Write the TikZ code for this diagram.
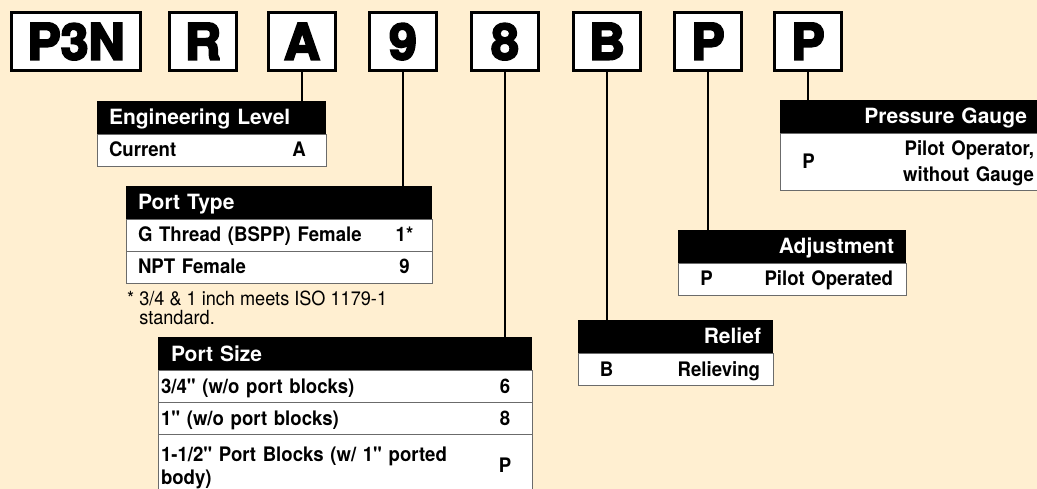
\documentclass[tikz,border=0pt]{standalone}
\usepackage{fontspec}
\setmainfont{TeX Gyre Heros}
\newfontfamily\cellfont{TeX Gyre Heros}[FakeStretch=0.93]
\newfontfamily\codefont{TeX Gyre Heros}[BoldFeatures={FakeBold=4}]
\usepackage{tikz}
\usetikzlibrary{positioning}
\definecolor{bgcream}{HTML}{FFEFD1}
\definecolor{rowline}{HTML}{6B6B6B}
\tikzset{codebox/.style={draw=black, line width=2.7pt, fill=white, inner sep=0pt, outer sep=0pt, minimum width=67pt, minimum height=58pt, text height=36pt, text depth=0pt, font=\codefont\fontsize{50}{50}\bfseries}}
\tikzset{
    headbar/.style={fill=black, text=white, font=\fontsize{21}{24}\selectfont\bfseries, inner xsep=12pt, inner ysep=0pt, outer sep=0pt, minimum height=33pt, text height=15pt, text depth=0pt, anchor=north west},
    rowcell/.style={draw=rowline, line width=0.8pt, fill=white, font=\cellfont\fontsize{20}{24}\selectfont\bfseries, inner xsep=12pt, inner ysep=0pt, outer sep=0pt, minimum height=32pt, text height=14pt, text depth=0pt, anchor=north west, align=left},
    valcell/.style={font=\cellfont\fontsize{20}{24}\selectfont\bfseries, inner sep=0pt, outer sep=0pt, minimum height=32pt, text height=14pt, text depth=0pt},
    connector/.style={draw=black, line width=2.5pt},
    notetext/.style={font=\cellfont\fontsize{19.5}{19}\selectfont, inner sep=0pt, align=left, anchor=north west}
}

\begin{document}
\begin{tikzpicture}[x=1pt, y=-1pt]

    \useasboundingbox (0,0) rectangle (1037,489);
    \fill[bgcream] (0,0) rectangle (1037,489);
    \clip (0,0) rectangle (1037,489);

    % model code
    \node[codebox, minimum width=129pt] (boxP3N) at (76,41.5) {P3N};
    \node[codebox] (boxR) at (203,41.5) {R};
    \node[codebox] (boxA) at (302,41.5) {A};
    \node[codebox] (box9) at (403,41.5) {9};
    \node[codebox] (box8) at (505,41.5) {8};
    \node[codebox] (boxB) at (607,41.5) {B};
    \node[codebox] (boxPa) at (708,41.5) {P};
    \node[codebox] (boxPb) at (808,41.5) {P};

    % engineering level
    \node[headbar, text width=205pt, align=left] (engHead) at (97,101) {Engineering Level};
    \node[rowcell, text width=205pt] (engRow) at (engHead.south west) {Current};
    \node[valcell, minimum width=54pt, anchor=north east] (engVal) at (engRow.north east) {A};
    \draw[connector] (boxA.south) -- (boxA.south |- engHead.north);

    % port type
    \node[headbar, text width=282pt, align=left] (ptHead) at (126,186) {Port Type};
    \node[rowcell, text width=282pt] (ptRowA) at (ptHead.south west) {G Thread (BSPP) Female};
    \node[valcell, minimum width=55pt, anchor=north east] (ptValA) at (ptRowA.north east) {1*};
    \node[rowcell, text width=282pt] (ptRowB) at (ptRowA.south west) {NPT Female};
    \node[valcell, minimum width=55pt, anchor=north east] (ptValB) at (ptRowB.north east) {9};
    \node[notetext] (ptNote) at (127,291) {* 3/4 \& 1 inch meets ISO 1179-1\\\hphantom{* }standard.};
    \draw[connector] (box9.south) -- (box9.south |- ptHead.north);

    % port size
    \node[headbar, inner xsep=13pt, text width=348pt, align=left] (psHead) at (158,337) {Port Size};
    \node[rowcell, inner xsep=3pt, text width=368pt] (psRowA) at (psHead.south west) {3/4" (w/o port blocks)};
    \node[valcell, minimum width=54pt, anchor=north east] (psValA) at (psRowA.north east) {6};
    \node[rowcell, inner xsep=3pt, text width=368pt] (psRowB) at (psRowA.south west) {1" (w/o port blocks)};
    \node[valcell, minimum width=54pt, anchor=north east] (psValB) at (psRowB.north east) {8};
    \node[rowcell, inner xsep=3pt, text width=368pt, minimum height=63pt, text depth=23pt, font=\cellfont\fontsize{20}{23}\selectfont\bfseries] (psRowC) at (psRowB.south west) {1-1/2" Port Blocks (w/ 1" ported\\body)};
    \node[valcell, minimum width=54pt, minimum height=63pt, anchor=north east] (psValC) at (psRowC.north east) {P};
    \draw[connector] (box8.south) -- (box8.south |- psHead.north);

    % relief
    \node[headbar, text width=171pt, align=right] (relHead) at (578,320) {Relief};
    \node[rowcell, inner xsep=13pt, text width=169pt, align=right] (relRow) at (relHead.south west) {Relieving};
    \node[valcell, minimum width=57pt, anchor=north west] (relKey) at (relRow.north west) {B};
    \draw[connector] (boxB.south) -- (boxB.south |- relHead.north);

    % adjustment
    \node[headbar, text width=204pt, align=right] (adjHead) at (678,230) {Adjustment};
    \node[rowcell, inner xsep=13pt, text width=202pt, align=right] (adjRow) at (adjHead.south west) {Pilot Operated};
    \node[valcell, minimum width=57pt, anchor=north west] (adjKey) at (adjRow.north west) {P};
    \draw[connector] (boxPa.south) -- (boxPa.south |- adjHead.north);

    % pressure gauge
    \node[headbar, inner xsep=10pt, text width=237pt, align=right] (pgHead) at (780,100) {Pressure Gauge};
    \node[rowcell, inner xsep=3pt, text width=251pt, align=right, minimum height=57pt, text depth=26pt, font=\cellfont\fontsize{20}{26}\selectfont\bfseries] (pgRow) at (pgHead.south west) {Pilot Operator,\\without Gauge};
    \node[valcell, minimum width=57pt, minimum height=57pt, anchor=north west] (pgKey) at (pgRow.north west) {P};
    \draw[connector] (boxPb.south) -- (boxPb.south |- pgHead.north);

\end{tikzpicture}
\end{document}
